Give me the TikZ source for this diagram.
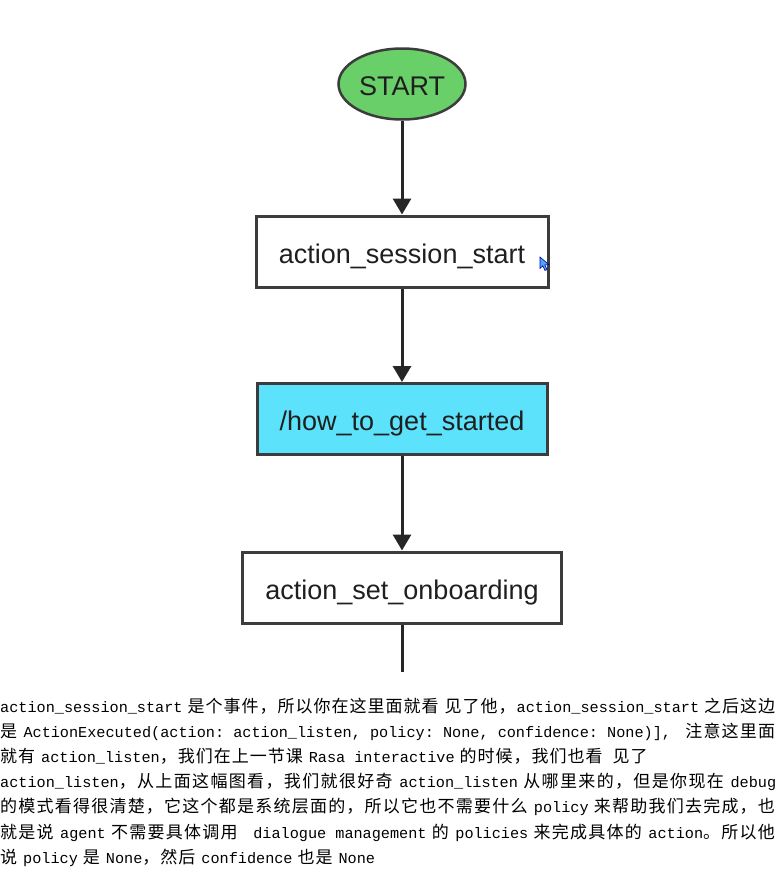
\documentclass[tikz,border=0pt]{standalone}
\usepackage{fontspec}
\setmainfont{Liberation Mono}
\newfontfamily\zhfont{Noto Sans CJK SC}
\newfontfamily\diafont{Liberation Sans}
\usetikzlibrary{shapes.geometric,arrows.meta}
\definecolor{startgreen}{HTML}{69CF69}
\definecolor{intentcyan}{HTML}{5CE2FB}
\definecolor{edgegray}{HTML}{3C3C3C}
\definecolor{cursorblue}{HTML}{4DA6F0}
% CJK run: each character followed by a small stretchable glue
\newcommand\zhglue{\hskip 1pt plus 1pt minus 0.4pt\relax}
\def\zhend{\zhend}
\def\zhloop#1{\ifx#1\zhend\else#1\zhglue\expandafter\zhloop\fi}
\def\zh#1{{\zhfont\fontsize{17}{20}\selectfont\zhloop#1\zhend}}
\newcommand\gp{\hskip 5pt plus 1pt minus 0.5pt\relax}
\newcommand\jline[1]{\makebox[776pt][s]{#1}}
\newcommand\parafont{\fontsize{15.2}{18}\selectfont\frenchspacing\spaceskip=0.6em\relax}
\tikzset{
  flowbox/.style={draw=edgegray, line width=3pt, rectangle, minimum height=71pt,
    font=\diafont\fontsize{27}{30}\selectfont, text=black!88, inner sep=0pt,
    text height=23.5pt, text depth=0pt},
  startnode/.style={draw=edgegray, line width=2.5pt, ellipse, fill=startgreen,
    minimum width=127pt, minimum height=71pt, inner sep=0pt,
    font=\diafont\fontsize{27}{30}\selectfont, text=black!88,
    text height=22pt, text depth=0pt},
  flowarrow/.style={draw=black!85, line width=3pt, -{Triangle[width=18pt,length=16pt]}},
  flowline/.style={draw=black!85, line width=3pt},
  paraline/.style={anchor=base west, inner sep=0pt, font=\parafont, text=black}
}
\begin{document}
\begin{tikzpicture}[x=1pt,y=-1pt]
\useasboundingbox (0,0) rectangle (780,870);
\fill[white] (0,0) rectangle (780,870);

\node[startnode] (start) at (402,84) {START};
\node[flowbox, fill=white, minimum width=292pt] (s1) at (402,251.5) {action\_session\_start};
\node[flowbox, fill=intentcyan, minimum width=290pt] (s2) at (402,419) {/how\_to\_get\_started};
\node[flowbox, fill=white, minimum width=319pt] (s3) at (402,587.5) {action\_set\_onboarding};
\coordinate (tail) at (402,672);

\draw[flowarrow] (start.south) -- (s1.north);
\draw[flowarrow] (s1.south) -- (s2.north);
\draw[flowarrow] (s2.south) -- (s3.north);
\draw[flowline] (s3.south) -- (tail);

% mouse cursor
\filldraw[fill=cursorblue, draw=blue!70!black, line width=0.6pt]
  (540,257) -- (540,268.5) -- (542.8,265.8) -- (545,270.5) -- (547,269.6) -- (544.9,265) -- (548.8,264.6) -- cycle;

\node[paraline] (p1) at (0,712) {\jline{action\_session\_start\gp\zh{是个事件，所以你在这里面就看}\hskip5pt\zh{见了他，}action\_session\_start\gp\zh{之后这边}}};
\node[paraline] (p2) at (0,737.2) {\jline{\zh{是}\gp ActionExecuted(action: action\_listen, policy: None, confidence: None)], \gp\zh{注意这里面}}};
\node[paraline] (p3) at (0,762.4) {\zh{就有}\gp action\_listen\zh{，我们在上一节课}\gp Rasa interactive\gp\zh{的时候，我们也看}\hskip9pt\zh{见了}};
\node[paraline] (p4) at (0,787.6) {\jline{action\_listen\zh{，从上面这幅图看，我们就很好奇}\gp action\_listen\gp\zh{从哪里来的，但是你现在}\gp debug}};
\node[paraline] (p5) at (0,812.8) {\jline{\zh{的模式看得很清楚，它这个都是系统层面的，所以它也不需要什么}\gp policy\gp\zh{来帮助我们去完成，也}}};
\node[paraline] (p6) at (0,838) {\jline{\zh{就是说}\gp agent\gp\zh{不需要具体调用}\gp\ dialogue management\gp\zh{的}\gp policies\gp\zh{来完成具体的}\gp action\zh{。所以他}}};
\node[paraline] (p7) at (0,863.2) {\zh{说}\gp policy\gp\zh{是}\gp None\zh{，然后}\gp confidence\gp\zh{也是}\gp None};
\end{tikzpicture}
\end{document}
